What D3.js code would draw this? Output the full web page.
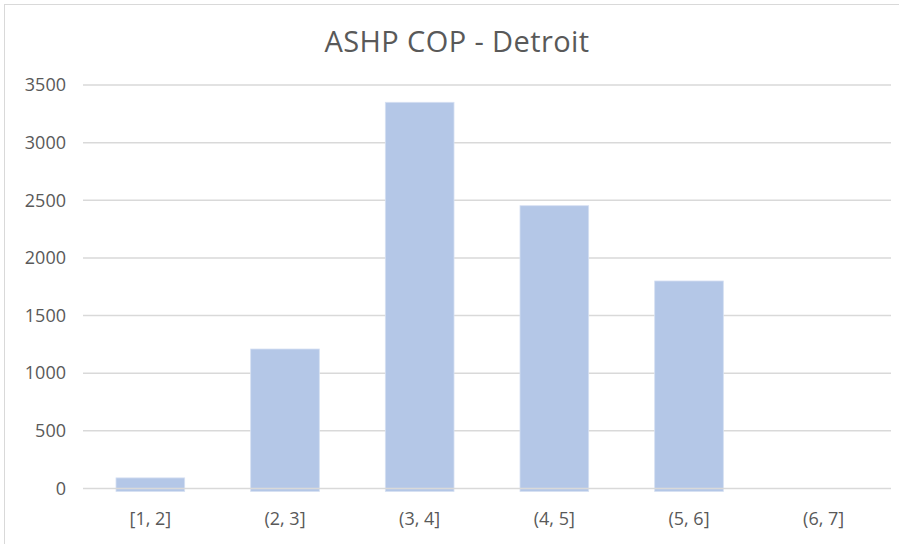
<!DOCTYPE html>
<html>
<head>
<meta charset="utf-8">
<script src="https://cdn.jsdelivr.net/npm/d3@7/dist/d3.min.js"></script>
<style>
  html, body { margin: 0; padding: 0; background: #fff; }
  svg { display: block; }
  text { font-family: "Open Sans", "Liberation Sans", sans-serif; fill: #595959; }
</style>
</head>
<body>
<svg id="chart" width="899" height="544"></svg>
<script>
const title = "ASHP COP - Detroit";
const categories = ["[1, 2]", "(2, 3]", "(3, 4]", "(4, 5]", "(5, 6]", "(6, 7]"];
const values = [92, 1210, 3350, 2453, 1800, 0];
const yTicks = [0, 500, 1000, 1500, 2000, 2500, 3000, 3500];

const W = 899, H = 544;
const svg = d3.select("#chart");
const margin = { left: 83, right: 8, top: 85, bottom: 55 };
const plotBottom = 488.5;

svg.append("rect")
  .attr("x", 4.5).attr("y", 4.5)
  .attr("width", W - 4).attr("height", H - 4)
  .attr("fill", "#fff").attr("stroke", "#d9d9d9").attr("stroke-width", 1);

const x = d3.scaleBand().domain(categories).range([margin.left, W - margin.right]).paddingInner(0.49).paddingOuter(0.245);
const y = d3.scaleLinear().domain([0, 3500]).range([plotBottom, margin.top]);

// gridlines
svg.append("g").selectAll("line").data(yTicks.filter(d => d > 0)).join("line")
  .attr("x1", margin.left).attr("x2", W - margin.right)
  .attr("y1", d => y(d)).attr("y2", d => y(d))
  .attr("stroke", "#d9d9d9").attr("stroke-width", 1.5);

// bars
svg.append("g").selectAll("rect").data(values.filter(d => d > 0)).join("rect")
  .attr("x", (d, i) => x(categories[values.indexOf(d)]))
  .attr("width", x.bandwidth())
  .attr("y", d => y(d))
  .attr("height", d => y(0) - y(d) + 3)
  .attr("fill", "#b4c7e7")
  .attr("stroke", "#d6e0f2").attr("stroke-width", 0.8);

// x axis line
svg.append("line")
  .attr("x1", margin.left).attr("x2", W - margin.right)
  .attr("y1", y(0)).attr("y2", y(0))
  .attr("stroke", "#d9d9d9").attr("stroke-width", 1.5);

// y axis labels
const yAxis = d3.axisLeft(y).tickValues(yTicks).tickFormat(d3.format("d")).tickSize(0).tickPadding(0);
const gy = svg.append("g").attr("transform", `translate(66,0)`).call(yAxis);
gy.select(".domain").remove();
gy.selectAll("text").attr("font-size", 18).attr("font-family", "'Open Sans', sans-serif").attr("fill", "#595959");

// x axis labels
const xAxis = d3.axisBottom(x).tickSize(0).tickPadding(0);
const gx = svg.append("g").attr("transform", `translate(0,${y(0) + 24})`).call(xAxis);
gx.select(".domain").remove();
gx.selectAll("text").attr("font-size", 18).attr("font-family", "'Open Sans', sans-serif").attr("fill", "#595959");

// title
svg.append("text")
  .attr("x", 457).attr("y", 52)
  .attr("text-anchor", "middle")
  .attr("font-size", 29)
  .attr("letter-spacing", 0.4)
  .text(title);
</script>
</body>
</html>
